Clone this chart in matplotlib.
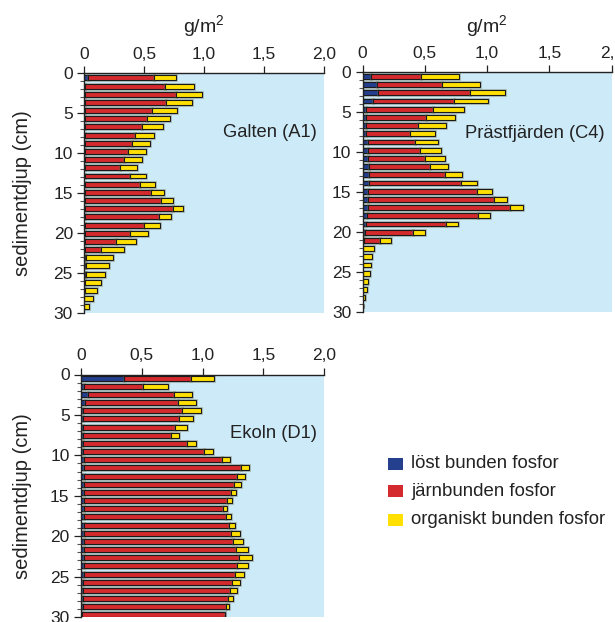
import numpy as np
import matplotlib
matplotlib.use("Agg")
import matplotlib.pyplot as plt
import matplotlib.patheffects as pe
from matplotlib.patches import Rectangle
from matplotlib.ticker import MultipleLocator, FuncFormatter

plt.rcParams['font.family'] = ['Liberation Sans', 'DejaVu Sans']
plt.rcParams['mathtext.fontset'] = 'custom'
plt.rcParams['mathtext.rm'] = 'Liberation Sans'

# phosphorus fractions per 1 cm layer, g/m2 (löst, järn, organiskt)
galten_lost = [0.03, 0.01, 0.01, 0.01, 0.01, 0.01, 0.01, 0.01, 0.01, 0.01,
               0.01, 0.01, 0.01, 0.01, 0.01, 0.01, 0.01, 0.01, 0.01, 0.01,
               0.01, 0.01, 0.005, 0.005, 0.005, 0.0, 0.0, 0.0, 0.0]
galten_jarn = [0.553, 0.662, 0.754, 0.671, 0.557, 0.515, 0.471, 0.415, 0.387, 0.357,
               0.321, 0.290, 0.371, 0.457, 0.546, 0.632, 0.729, 0.612, 0.490, 0.371,
               0.257, 0.134, 0.012, 0.015, 0.012, 0.008, 0.005, 0.0, 0.0]
galten_org = [0.184, 0.247, 0.216, 0.219, 0.211, 0.195, 0.180, 0.158, 0.150, 0.150,
              0.152, 0.144, 0.136, 0.122, 0.107, 0.100, 0.083, 0.100, 0.131, 0.152,
              0.169, 0.192, 0.222, 0.191, 0.161, 0.136, 0.106, 0.078, 0.042]

prast_lost = [0.066, 0.114, 0.122, 0.082, 0.025, 0.025, 0.031, 0.031, 0.041, 0.041,
              0.047, 0.052, 0.055, 0.050, 0.047, 0.047, 0.047, 0.039, 0.028, 0.023,
              0.015, 0.0, 0.0, 0.0, 0.0, 0.0, 0.0, 0.0, 0.0]
prast_jarn = [0.404, 0.521, 0.741, 0.652, 0.538, 0.485, 0.417, 0.353, 0.380, 0.420,
              0.452, 0.487, 0.607, 0.740, 0.869, 1.006, 1.137, 0.891, 0.640, 0.385,
              0.123, 0.0, 0.0, 0.0, 0.0, 0.0, 0.0, 0.0, 0.0]
prast_org = [0.305, 0.311, 0.281, 0.270, 0.254, 0.235, 0.222, 0.198, 0.182, 0.172,
             0.161, 0.150, 0.139, 0.129, 0.121, 0.109, 0.107, 0.096, 0.096, 0.094,
             0.093, 0.090, 0.079, 0.068, 0.057, 0.047, 0.036, 0.020, 0.006]

ekoln_lost = [0.353, 0.027, 0.063, 0.038, 0.016, 0.016, 0.016, 0.016, 0.016, 0.016,
              0.027, 0.027, 0.027, 0.027, 0.027, 0.027, 0.027, 0.027, 0.027, 0.027,
              0.027, 0.027, 0.027, 0.027, 0.027, 0.020, 0.020, 0.020, 0.015, 0.010]
ekoln_jarn = [0.550, 0.482, 0.703, 0.764, 0.818, 0.791, 0.755, 0.723, 0.854, 0.994,
              1.133, 1.286, 1.256, 1.234, 1.204, 1.174, 1.141, 1.163, 1.188, 1.207,
              1.226, 1.245, 1.270, 1.253, 1.237, 1.225, 1.208, 1.192, 1.178, 1.172]
ekoln_org = [0.194, 0.208, 0.151, 0.147, 0.151, 0.118, 0.099, 0.071, 0.074, 0.076,
             0.068, 0.069, 0.063, 0.052, 0.046, 0.044, 0.036, 0.044, 0.049, 0.071,
             0.082, 0.099, 0.107, 0.091, 0.079, 0.065, 0.052, 0.036, 0.022, 0.0]

xticks = [0, 0.5, 1.0, 1.5, 2.0]
legend_labels = ['löst bunden fosfor', 'järnbunden fosfor', 'organiskt bunden fosfor']

c_lost = '#233f8e'
c_jarn = '#d42a2e'
c_org = '#ffe000'
bg = '#cdeaf8'

W, H = 615, 622
fig = plt.figure(figsize=(W / 100, H / 100), dpi=100)


def box(x0, y0, x1, y1):
    return [x0 / W, 1 - y1 / H, (x1 - x0) / W, (y1 - y0) / H]


def panel(rect, lost, jarn, org, name, name_y, step, first):
    ax = fig.add_axes(rect)
    ax.set_facecolor(bg)
    n = len(lost)
    depth = first + np.arange(n) * step
    lost = np.array(lost)
    jarn = np.array(jarn)
    org = np.array(org)
    halo = [pe.Stroke(linewidth=2.2, foreground=(0.45, 0.45, 0.35, 0.35)), pe.Normal()]
    kw = dict(height=0.62, edgecolor='#1a1a1a', linewidth=0.8)
    for vals, left, col in ((lost, 0, c_lost), (jarn, lost, c_jarn),
                            (org, lost + jarn, c_org)):
        bars = ax.barh(depth, vals, left=left, color=col, **kw)
        for b in bars:
            b.set_path_effects(halo)
    ax.set_xlim(0, 2.0)
    ax.set_ylim(30, 0)
    ax.xaxis.tick_top()
    ax.set_xticks(xticks)
    ax.xaxis.set_major_formatter(FuncFormatter(
        lambda v, p: '0' if v == 0 else f'{v:.1f}'.replace('.', ',')))
    ax.yaxis.set_major_locator(MultipleLocator(5))
    ax.yaxis.set_minor_locator(MultipleLocator(1))
    ax.tick_params(axis='both', which='major', direction='out', length=5,
                   width=0.9, labelsize=12.5, pad=3, colors='#222222')
    ax.tick_params(axis='y', which='minor', direction='out', length=3, width=0.8,
                   color='#555555')
    for s in ('right', 'bottom'):
        ax.spines[s].set_visible(False)
    for s in ('top', 'left'):
        ax.spines[s].set_linewidth(1.0)
        ax.spines[s].set_color('#222222')
    ax.text(0.97, name_y, name, transform=ax.transAxes, ha='right', va='center',
            fontsize=13.2, color='#222222')
    return ax


panel(box(84, 72.7, 324, 312.7), galten_lost, galten_jarn, galten_org,
      'Galten (A1)', 0.749, 1.022, 0.65)
panel(box(362.5, 72.0, 611.7, 312.0), prast_lost, prast_jarn, prast_org,
      'Prästfjärden (C4)', 0.743, 1.025, 0.55)
panel(box(80.7, 374.5, 324.3, 617.0), ekoln_lost, ekoln_jarn, ekoln_org,
      'Ekoln (D1)', 0.757, 1.01, 0.45)

for xc in (204, 487):
    fig.text(xc / W, 1 - 27 / H, 'g/m$^{2}$', ha='center', va='center',
             fontsize=14, color='#222222')

for yc in (192.7, 495.7):
    fig.text(23 / W, 1 - yc / H, 'sedimentdjup (cm)', rotation=90,
             ha='center', va='center', fontsize=14.5, color='#222222')

# legend
for yc, col, lab in zip((464, 491, 520), (c_lost, c_jarn, c_org), legend_labels):
    fig.add_artist(Rectangle((388 / W, 1 - (yc + 6) / H), 15 / W, 12 / H,
                             transform=fig.transFigure, facecolor=col,
                             edgecolor='none'))
    fig.text(411 / W, 1 - yc / H, lab, ha='left', va='center', fontsize=13.4,
             color='#222222')

fig.savefig('out.png', dpi=100)
